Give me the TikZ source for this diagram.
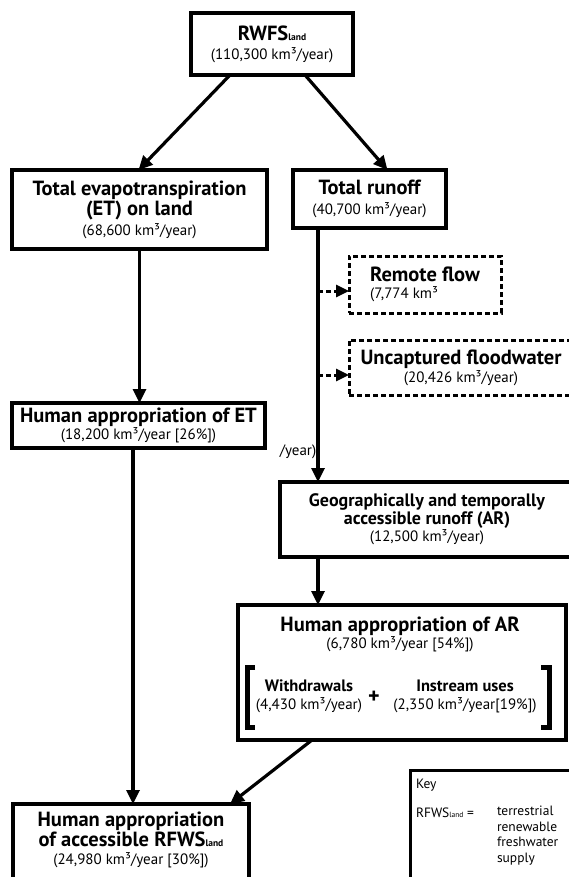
\documentclass[tikz,border=0pt]{standalone}
\usepackage{fontspec}
\setmainfont{PT Sans}
\usetikzlibrary{arrows.meta}

% fonts used in the boxes
\newcommand{\tf}{\fontsize{20.5}{20}\selectfont\bfseries}
\newcommand{\nf}{\fontsize{15}{17}\selectfont\mdseries}
\newcommand{\lsub}{{\fontsize{9.5}{9.5}\selectfont land}}
\newcommand{\kmy}{km³/year}

\begin{document}
\begin{tikzpicture}[x=1pt,y=-1pt,
  every node/.style={inner sep=0pt,outer sep=0pt},
  box/.style={draw,line width=3.2pt,align=center,font=\tf},
  dbox/.style={draw,line width=3pt,dash pattern=on 5pt off 3pt,font=\tf},
  txt/.style={align=center,font=\tf},
  arr/.style={line width=3.2pt,-{Triangle[length=14pt,width=13pt]}},
  darr/.style={line width=3pt,dash pattern=on 5pt off 3pt,
               -{Triangle[length=13pt,width=12pt]}},
  bracket/.style={line width=5pt,miter limit=4}]

\useasboundingbox (0,0) rectangle (569,877);
\clip (0,0) rectangle (569,877);

% ---- boxes -------------------------------------------------------
\node[box,minimum width=162pt,minimum height=62pt] (rwfs) at (272,44)
  {RWFS\lsub\\[-1pt]{\nf (110,300 \kmy)}};

\node[box,minimum width=255pt,minimum height=79pt] (et) at (139.5,209.5)
  {Total evapotranspiration\\(ET) on land\\{\nf (68,600 \kmy)}};

\node[box,minimum width=153pt,minimum height=58pt] (runoff) at (369.5,199)
  {Total runoff\\{\nf (40,700 \kmy)}};

\node[dbox,minimum width=152pt,minimum height=57pt,align=left] (remote) at (425,284.5)
  {Remote flow\\[-3pt]{\nf (7,774 km³}};

\node[dbox,minimum width=224pt,minimum height=55pt,align=center] (flood) at (461,367.5)
  {Uncaptured floodwater\\[-2pt]{\nf (20,426 \kmy)}};

\node[box,minimum width=253pt,minimum height=45pt] (het) at (138.5,425.5)
  {Human appropriation of ET\\[-3pt]{\nf (18,200 \kmy\ [26\%])}};

\node[box,minimum width=294pt,minimum height=75pt,
      font=\fontsize{18}{20}\selectfont\bfseries] (ar) at (427,519.5)
  {Geographically and temporally\\[-2pt]accessible runoff (AR)\\[-3pt]{\nf (12,500 \kmy)}};

\node[box,minimum width=328pt,minimum height=135pt] (har) at (402,672.5) {};

\node[box,minimum width=236pt,minimum height=104pt] (harf) at (131,856) {};

\node[draw,line width=3pt,minimum width=220pt,minimum height=140pt] (key) at (520,840) {};

% ---- texts inside the open boxes -----------------------------------
\node[txt] (hart) at (400,634)
  {Human appropriation of AR\\[-3pt]{\nf (6,780 \kmy\ [54\%])}};
\node[txt,font=\fontsize{16.5}{18}\selectfont\bfseries] (wd) at (309,696)
  {Withdrawals\\{\nf (4,430 \kmy)}};
\node[txt,font=\fontsize{22}{22}\selectfont\bfseries] (plus) at (374,697) {+};
\node[txt,font=\fontsize{16.5}{18}\selectfont\bfseries] (ins) at (465,696)
  {Instream uses\\{\nf (2,350 \kmy[19\%])}};

\draw[bracket] (255,667) -- (247,667) -- (247,727) -- (255,727);
\draw[bracket] (541,667) -- (549,667) -- (549,727) -- (541,727);

\node[txt] (harft) at (131,840)
  {Human appropriation\\of accessible RFWS\lsub\\[-2pt]{\nf (24,980 \kmy\ [30\%])}};

\node[anchor=base west,font=\fontsize{13.5}{16}\selectfont] (keyh) at (416,788) {Key};
\node[anchor=base west,font=\fontsize{13.5}{16}\selectfont] (keyt) at (416,817)
  {RFWS{\fontsize{7.5}{7.5}\selectfont land} =};
\node[anchor=north west,align=left,font=\fontsize{13.5}{15.5}\selectfont] (keyd) at (497,806)
  {terrestrial\\renewable\\freshwater\\supply};

\node[font=\nf] (yr) at (298,452) {/year)};

% ---- connectors ----------------------------------------------------
\coordinate (trunk) at ([xshift=-51.5pt]runoff.south);
\coordinate (rin) at ([yshift=-6.5pt]remote.west);
\coordinate (fin) at ([yshift=-7.5pt]flood.west);

\draw[arr] ([xshift=-42pt]rwfs.south) -- ([xshift=-1pt]et.north);
\draw[arr] ([xshift=33pt]rwfs.south) -- ([xshift=18pt]runoff.north);
\draw[arr] (et.south) -- (et.south |- het.north);
\draw[arr] (trunk) -- (trunk |- ar.north);
\draw[darr] (trunk |- rin) -- (rin);
\draw[darr] (trunk |- fin) -- (fin);
\draw[arr] (trunk |- ar.south) -- (trunk |- har.north);
\draw[arr] ([xshift=-5.5pt]het.south) -- ([xshift=-5.5pt]het.south |- harf.north);
\draw[arr] ([xshift=-90pt]har.south) -- ([xshift=-19pt]harf.north east);

\end{tikzpicture}
\end{document}
